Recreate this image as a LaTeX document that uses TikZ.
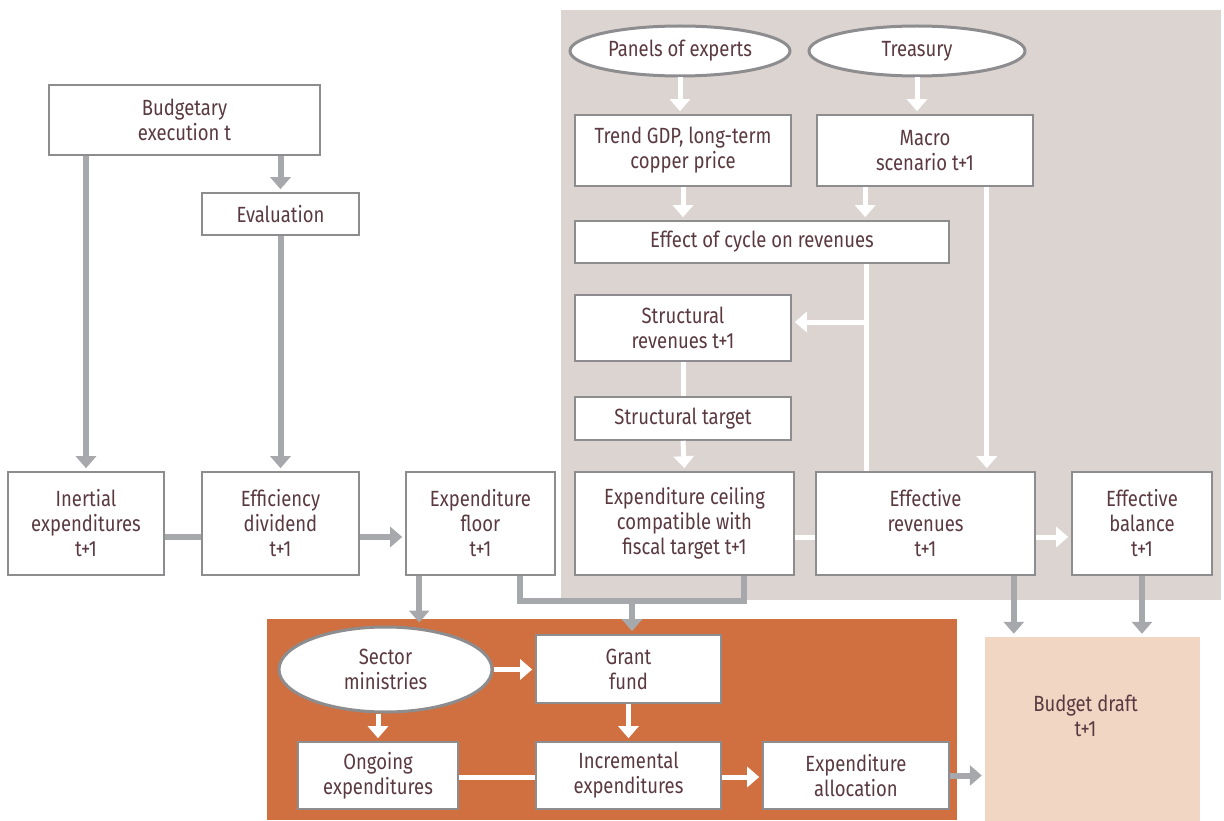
\documentclass[tikz,border=0pt]{standalone}
\usepackage{fontspec}
\setmainfont{Fira Sans}[FakeStretch=0.84]
\usetikzlibrary{shapes.geometric,arrows.meta}

\definecolor{txt}{HTML}{5A3A40}
\definecolor{frame}{HTML}{8D8D90}
\definecolor{arrowgrey}{HTML}{A7A8AB}
\definecolor{panelgrey}{HTML}{DCD4D0}
\definecolor{panelorange}{HTML}{D06F3F}
\definecolor{draftpink}{HTML}{F2D6C4}

\begin{document}
\begin{tikzpicture}[x=1pt,y=-1pt,
  font=\fontsize{22}{25}\selectfont, text=txt,
  box/.style={draw=frame, line width=1.6, fill=white, align=center, inner sep=0},
  oval/.style={ellipse, draw=frame, line width=3, fill=white, align=center, inner sep=0},
  greyarrow/.style={draw=arrowgrey, line width=6, -{Triangle[width=20,length=12]}, shorten >=3},
  greyline/.style={draw=arrowgrey, line width=6},
  whitearrow/.style={draw=white, line width=5, -{Triangle[width=20,length=12]}, shorten >=3},
  whiteline/.style={draw=white, line width=5}]
\useasboundingbox (0,0) rectangle (1224,821);

% backgrounds
\fill[panelgrey] (561,10) rectangle (1221,600);
\fill[panelorange] (267,619) rectangle (957,820);

% left column
\node[box, minimum width=271, minimum height=70] (budget) at (184.5,120) {Budgetary\\execution t};
\node[box, minimum width=157, minimum height=42] (eval) at (280.5,214) {Evaluation};
\node[box, minimum width=156, minimum height=103] (inertial) at (86,523.5) {Inertial\\expenditures\\t+1};
\node[box, minimum width=157, minimum height=103] (effic) at (280.5,523.5) {Efficiency\\dividend\\t+1};
\node[box, minimum width=149, minimum height=103] (floor) at (480.5,523.5) {Expenditure\\floor\\t+1};

% grey panel
\node[oval, minimum width=220, minimum height=50] (panels) at (680,51) {Panels of experts};
\node[oval, minimum width=216, minimum height=50] (treasury) at (917,51) {Treasury};
\node[box, minimum width=216, minimum height=71] (trend) at (683,150.5) {Trend GDP, long-term\\copper price};
\node[box, minimum width=216, minimum height=71] (macro) at (925,150.5) {Macro\\scenario t+1};
\node[box, minimum width=374, minimum height=42] (effect) at (762,242) {Effect of cycle on revenues};
\node[box, minimum width=216, minimum height=66] (strev) at (683,328) {Structural\\revenues t+1};
\node[box, minimum width=216, minimum height=43] (starget) at (683,418.5) {Structural target};
\node[box, minimum width=219, minimum height=103] (ceiling) at (684.5,523.5) {Expenditure ceiling\\compatible with\\fiscal target t+1};
\node[box, minimum width=219, minimum height=103] (revenues) at (925.5,523.5) {Effective\\revenues\\t+1};
\node[box, minimum width=140, minimum height=103] (balance) at (1142,523.5) {Effective\\balance\\t+1};

% orange panel
\node[oval, minimum width=213, minimum height=85] (sector) at (385.5,669.5) {Sector\\ministries};
\node[box, minimum width=185, minimum height=68] (grant) at (628.5,669) {Grant\\fund};
\node[box, minimum width=160, minimum height=67] (ongoing) at (378,775.5) {Ongoing\\expenditures};
\node[box, minimum width=185, minimum height=67] (incr) at (628.5,775.5) {Incremental\\expenditures};
\node[box, minimum width=186, minimum height=67] (alloc) at (856,775.5) {Expenditure\\allocation};

\node[fill=draftpink, minimum width=215, minimum height=184] (draft) at (1092.5,729) {};
\node[align=center] (drafttext) at ([xshift=-7,yshift=13]draft.center) {Budget draft\\t+1};

% grey connectors
\draw[greyarrow] (inertial.north |- budget.south) -- (inertial.north);
\draw[greyarrow] (eval.north |- budget.south) -- (eval.north);
\draw[greyarrow] (eval.south) -- (effic.north);
\draw[greyline] ([yshift=-13.5]inertial.east) -- ([yshift=-13.5]effic.west);
\draw[greyarrow] ([yshift=-13.5]effic.east) -- ([yshift=-13.5]floor.west);
\draw[greyarrow] ([xshift=14]floor.south west) -- ([xshift=14]floor.south west |- sector.north);
\coordinate (join) at (632,601);
\draw[greyline] ([xshift=115]floor.south west) |- (join) -| ([xshift=-51]ceiling.south east);
\draw[greyarrow] (join) -- (join |- grant.north);
\draw[greyarrow] ([xshift=-22]revenues.south east) -- ([xshift=-22]revenues.south east |- draft.north);
\draw[greyarrow] (balance.south) -- (balance.south |- draft.north);
\draw[greyarrow] (alloc.east) -- (alloc.east -| draft.west);

% white connectors
\draw[whitearrow] (panels.south) -- (panels.south |- trend.north);
\draw[whitearrow] (treasury.south) -- (treasury.south |- macro.north);
\draw[whitearrow] (trend.south) -- (trend.south |- effect.north);
\draw[whitearrow] ([xshift=49]macro.south west) -- ([xshift=49]macro.south west |- effect.north);
\draw[whitearrow] ([xshift=-47]macro.south east) -- ([xshift=-47]macro.south east |- revenues.north);
\coordinate (branch) at (866,322);
\draw[whiteline] ([xshift=-83]effect.south east) -- ([xshift=-83]effect.south east |- revenues.north);
\draw[whitearrow] (branch) -- (branch -| strev.east);
\draw[whiteline] (strev.south) -- (starget.north);
\draw[whitearrow] (starget.south) -- (ceiling.north);
\draw[whiteline] ([yshift=-13.5]ceiling.east) -- ([yshift=-13.5]revenues.west);
\draw[whitearrow] ([yshift=-13.5]revenues.east) -- ([yshift=-13.5]balance.west);
\draw[whitearrow] (sector.east) -- (sector.east -| grant.west);
\draw[whitearrow] (ongoing.north |- sector.south) -- (ongoing.north);
\draw[whitearrow] (grant.south) -- (incr.north);
\draw[whiteline] ([yshift=-1.5]ongoing.east) -- ([yshift=-1.5]incr.west);
\draw[whitearrow] ([yshift=-1.5]incr.east) -- ([yshift=-1.5]alloc.west);
\end{tikzpicture}
\end{document}
